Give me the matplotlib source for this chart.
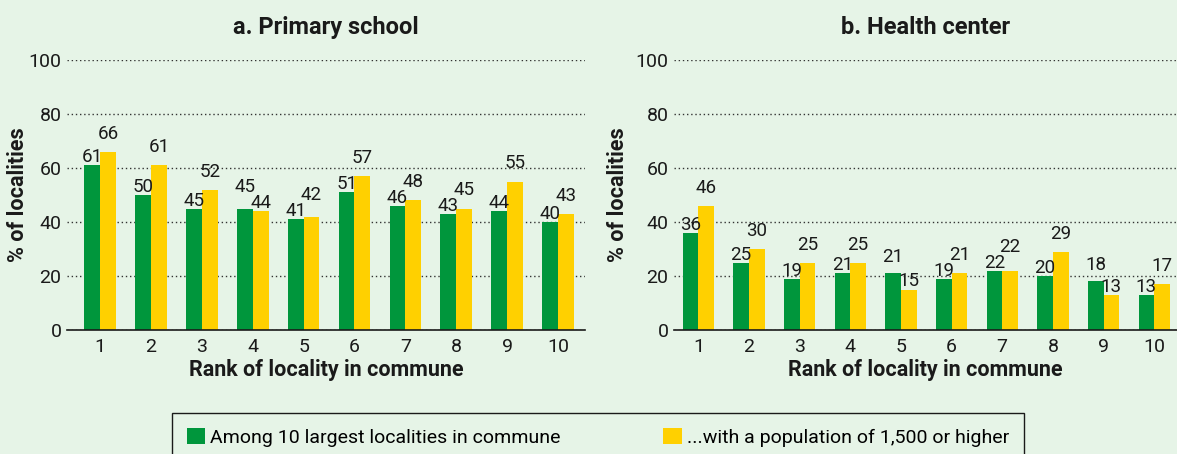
import matplotlib
matplotlib.use("Agg")
import matplotlib.pyplot as plt
import numpy as np

plt.rcParams['font.family'] = ['Roboto', 'DejaVu Sans']

ranks = ["1", "2", "3", "4", "5", "6", "7", "8", "9", "10"]
school_largest = [61, 50, 45, 45, 41, 51, 46, 43, 44, 40]
school_pop = [66, 61, 52, 44, 42, 57, 48, 45, 55, 43]
health_largest = [36, 25, 19, 21, 21, 19, 22, 20, 18, 13]
health_pop = [46, 30, 25, 25, 15, 21, 22, 29, 13, 17]
titles = ["a. Primary school", "b. Health center"]
series_names = ["Among 10 largest localities in commune",
                "...with a population of 1,500 or higher"]
yticks = [0, 20, 40, 60, 80, 100]

GREEN = "#00963C"
YELLOW = "#FFD000"
BG = "#E6F4E7"
TXT = "#1a1a1a"
W, H = 1177, 454

fig = plt.figure(figsize=(W / 100, H / 100), dpi=100, facecolor=BG)

def px_axes(x0, x1, y_top, y_bot):
    return fig.add_axes([x0 / W, 1 - y_bot / H, (x1 - x0) / W, (y_bot - y_top) / H])

AX_TOP, AX_BOT = 60, 330
ax1 = px_axes(67, 585, AX_TOP, AX_BOT)
ax2 = px_axes(674, 1177, AX_TOP, AX_BOT)

panels = [(ax1, school_largest, school_pop, (-0.65, 9.53), 29),
          (ax2, health_largest, health_pop, (-0.48, 9.45), 629)]

bw = 0.31
PT = 72 / 100  # points per pixel
ylab_y = 1 - ((AX_TOP + AX_BOT) / 2) / H

for i, (ax, g, y, xl, ylx) in enumerate(panels):
    ax.set_facecolor(BG)
    x = np.arange(len(ranks))
    ax.bar(x - bw / 2, g, width=bw, color=GREEN, label=series_names[0], zorder=2)
    ax.bar(x + bw / 2, y, width=bw, color=YELLOW, label=series_names[1], zorder=2)
    ax.set_xlim(*xl)
    ax.set_ylim(0, 100)
    # pixel height of one data unit
    ppu = ax.transData.transform((0, 1))[1] - ax.transData.transform((0, 0))[1]
    for xi, gv, yv in zip(x, g, y):
        g_top, y_top = gv * ppu, yv * ppu
        if yv >= gv:
            g_bot = g_top + 3
            y_bot = max(y_top + 13, g_bot + 16)
        else:
            y_bot = y_top + 3
            g_bot = max(g_top + 11, y_bot + 16)
        ax.annotate(str(gv), (xi - bw / 2, gv), xytext=(0, (g_bot - g_top) * PT),
                    textcoords="offset points", ha="center", va="baseline",
                    fontsize=13.5, color=TXT)
        ax.annotate(str(yv), (xi + bw / 2, yv), xytext=(0, (y_bot - y_top) * PT),
                    textcoords="offset points", ha="center", va="baseline",
                    fontsize=13.5, color=TXT)
    ax.set_xticks(x)
    ax.set_xticklabels(ranks, fontsize=14)
    ax.set_yticks(yticks)
    ax.set_yticklabels([str(t) for t in yticks], fontsize=14)
    ax.tick_params(axis="both", length=0, pad=6, colors=TXT)
    ax.tick_params(axis="y", pad=4)
    ax.yaxis.grid(True, linestyle=(0, (1, 2)), color="#333333", linewidth=1.0)
    ax.set_axisbelow(True)
    for s in ["top", "right", "left"]:
        ax.spines[s].set_visible(False)
    ax.spines["bottom"].set_color(TXT)
    ax.spines["bottom"].set_linewidth(1.2)
    ax.spines["bottom"].set_zorder(3)
    ax.set_title(titles[i], fontsize=17, fontweight="bold", pad=19, color=TXT)
    ax.set_xlabel("Rank of locality in commune", fontsize=15.5, fontweight="bold",
                  labelpad=2, color=TXT)
    ax.set_ylabel("% of localities", fontsize=15.5, fontweight="bold", color=TXT)
    ax.yaxis.set_label_coords(ylx / W, ylab_y, transform=fig.transFigure)

handles, labels = ax1.get_legend_handles_labels()
leg = fig.legend(handles, labels, loc="upper left", ncol=2,
                 bbox_to_anchor=(172 / W, 1 - 413 / H),
                 fontsize=14, frameon=True, fancybox=False, edgecolor=TXT,
                 facecolor=BG, handlelength=0.95, handleheight=0.95, handletextpad=0.25,
                 columnspacing=5.3, borderpad=0.75, borderaxespad=0)
leg.get_frame().set_linewidth(1.0)
leg.get_frame().set_alpha(None)

fig.savefig("out.png", dpi=100, facecolor=BG)
